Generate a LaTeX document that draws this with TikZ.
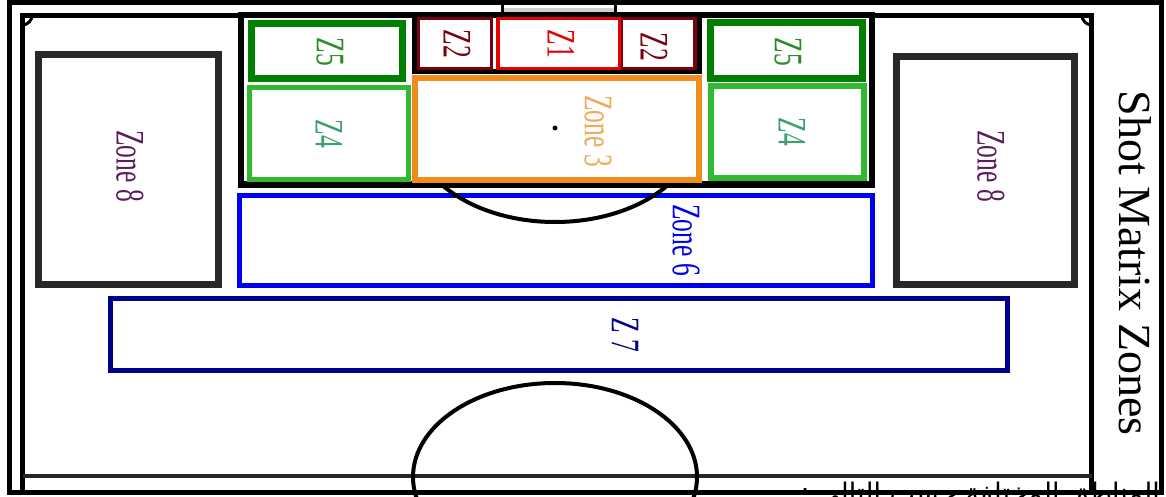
\documentclass[tikz,border=0pt]{standalone}
\usepackage{fontspec}
\setmainfont{Liberation Serif}
\newfontfamily\arabicfont[Script=Arabic]{DejaVu Sans}
\TeXXeTstate=1
\definecolor{zfive}{RGB}{0,128,0}
\definecolor{zfivetxt}{RGB}{40,140,40}
\definecolor{zfour}{RGB}{50,185,50}
\definecolor{zfourtxt}{RGB}{60,160,110}
\definecolor{zthree}{RGB}{240,140,30}
\definecolor{zthreetxt}{RGB}{240,170,90}
\definecolor{ztwo}{RGB}{120,0,15}
\definecolor{zone}{RGB}{230,0,0}
\definecolor{zsix}{RGB}{0,0,240}
\definecolor{zseven}{RGB}{0,0,140}
\definecolor{zeight}{RGB}{40,40,40}
\definecolor{zeighttxt}{RGB}{90,30,90}
\begin{document}
\begin{tikzpicture}[x=1pt,y=-1pt,line join=miter,
  zlbl/.style={inner sep=0pt,font=\fontsize{30}{30}\selectfont,xscale=1.35,yscale=0.85,rotate=-90},
  pline/.style={line width=5pt,black}]
\useasboundingbox (0,0) rectangle (1166,497);
\clip (0,0) rectangle (1166,497);
\fill[white] (0,0) rectangle (1166,497);
% outer border
\draw[line width=5pt] (9.5,2.5) rectangle (1161.5,492.5);
% field
\draw[pline] (22.5,492) -- (22.5,15.5) -- (1091.5,15.5) -- (1091.5,492);
\draw[line width=4pt,black!85] (22.5,476) -- (1091.5,476);
% corner arcs
\draw[line width=3pt] (22.5,25) .. controls (27.5,25) and (32,20.5) .. (32,15.5);
\draw[line width=3pt] (1091.5,25) .. controls (1086.5,25) and (1082,20.5) .. (1082,15.5);
% goal
\fill[gray!35] (503,8) rectangle (614,13);
\draw[line width=3pt] (502,3) -- (502,15.5);
\draw[line width=3pt] (615,3) -- (615,15.5);
% centre circle
\draw[line width=4pt] (555,477) ellipse [x radius=142pt,y radius=94pt];
% zone 8
\draw[line width=7pt,zeight] (38.5,55) rectangle (218.5,284);
\draw[line width=7pt,zeight] (896,56.5) rectangle (1074,284);
% zone 7 and zone 6
\draw[line width=5pt,zseven] (110.5,298.5) rectangle (1007.5,370.5);
\draw[line width=5pt,zsix] (239.5,195.5) rectangle (872.5,285.5);
% penalty arc
\begin{scope}
\clip (0,186) rectangle (1166,497);
\draw[line width=4pt] (555,128) ellipse [x radius=142pt,y radius=94pt];
\end{scope}
% penalty box
\draw[line width=6pt] (240.5,15.5) rectangle (871.5,184.5);
% zones inside the box
\draw[line width=7pt,zfive] (251,23.5) rectangle (402.5,78.5);
\draw[line width=5pt,zfour] (249.5,87.5) rectangle (408,179.5);
\draw[line width=7pt,zfive] (710,22.5) rectangle (862.5,78.5);
\draw[line width=6pt,zfour] (710.5,86.5) rectangle (864,178.5);
\draw[line width=6pt,zthree] (415,78.5) rectangle (698.5,180);
% goal area
\draw[line width=5pt] (414.5,15.5) rectangle (699.5,71.5);
\draw[line width=3.5pt,ztwo] (418.5,18.5) rectangle (491.5,68.5);
\draw[line width=3.5pt,ztwo] (621,18.5) rectangle (695,68.5);
\draw[line width=3.5pt,zone] (498,18.5) rectangle (619.5,68.5);
% penalty spot
\fill (555,128) circle (2.5pt);
% labels
\node[zlbl,text=zfivetxt] (z5l) at (330,52) {Z5};
\node[zlbl,text=zfourtxt] (z4l) at (329,134) {Z4};
\node[zlbl,text=zfivetxt] (z5r) at (788,52) {Z5};
\node[zlbl,text=zfourtxt] (z4r) at (792,132) {Z4};
\node[zlbl,text=ztwo] (z2l) at (457,44) {Z2};
\node[zlbl,text=zone] (z1) at (561,44) {Z1};
\node[zlbl,text=ztwo] (z2r) at (654,47) {Z2};
\node[zlbl,text=zthreetxt] (z3) at (598,131) {Zone 3};
\node[zlbl,text=zeighttxt] (z8l) at (130,166) {Zone 8};
\node[zlbl,text=zeighttxt] (z8r) at (991,166) {Zone 8};
\node[zlbl,text=zsix] (z6) at (686,240) {Zone 6};
\node[zlbl,text=zseven] (z7) at (625,335) {Z 7};
\node[inner sep=0pt,font=\fontsize{46}{46}\selectfont,rotate=-90] (title) at (1135,263) {Shot Matrix Zones};
\node[anchor=base east,inner sep=0pt,font=\arabicfont\fontsize{27}{27}\selectfont] (ar) at (1160,502) {\beginR المناطق المختلفة حسب التالي :\endR};
\end{tikzpicture}
\end{document}
